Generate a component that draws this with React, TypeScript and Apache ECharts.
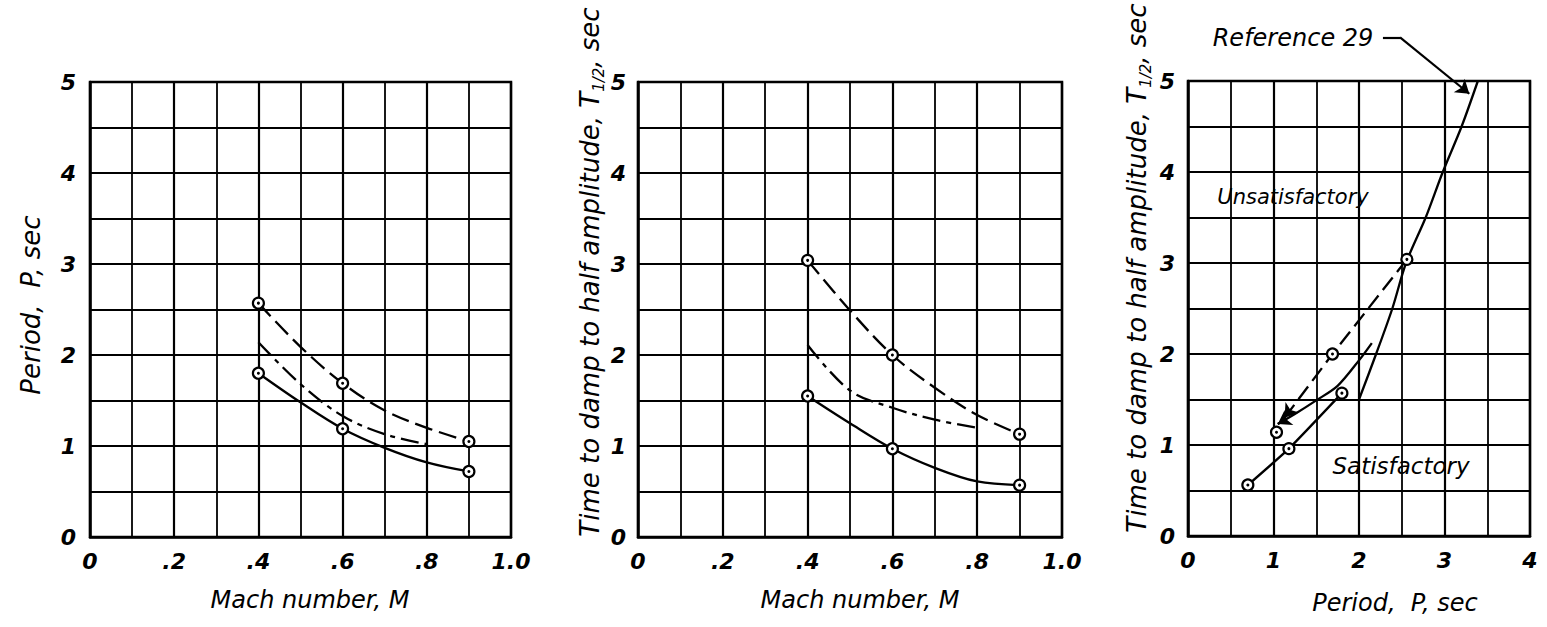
import React, { useEffect, useRef } from "react";
import * as echarts from "echarts";

// ---------- tick labels ----------
const machTickLabels = ["0", ".2", ".4", ".6", ".8", "1.0"];
const yTickLabels = ["0", "1", "2", "3", "4", "5"];
const periodTickLabels = ["0", "1", "2", "3", "4"];

// ---------- panel 1 : Period vs Mach ----------
const p1Dashed = [[0.4, 2.57], [0.5, 2.09], [0.6, 1.69], [0.7, 1.39], [0.8, 1.2], [0.9, 1.05]];
const p1DashDot = [[0.4, 2.14], [0.5, 1.68], [0.6, 1.33], [0.7, 1.13], [0.8, 1.02]];
const p1Solid = [[0.4, 1.8], [0.5, 1.48], [0.6, 1.19], [0.7, 0.98], [0.8, 0.82], [0.9, 0.72]];
const p1Points = [[0.4, 2.57], [0.6, 1.69], [0.9, 1.05], [0.4, 1.8], [0.6, 1.19], [0.9, 0.72]];

// ---------- panel 2 : T1/2 vs Mach ----------
const p2Dashed = [[0.4, 3.04], [0.5, 2.49], [0.6, 2.0], [0.7, 1.64], [0.8, 1.34], [0.9, 1.13]];
const p2DashDot = [[0.4, 2.11], [0.5, 1.61], [0.6, 1.42], [0.7, 1.29], [0.8, 1.2]];
const p2Solid = [[0.4, 1.55], [0.5, 1.25], [0.6, 0.97], [0.7, 0.76], [0.8, 0.61], [0.9, 0.57]];
const p2Points = [[0.4, 3.04], [0.6, 2.0], [0.9, 1.13], [0.4, 1.55], [0.6, 0.97], [0.9, 0.57]];

// ---------- panel 3 : T1/2 vs Period ----------
const p3Solid = [[0.7, 0.56], [1.18, 0.96], [1.8, 1.57]];
const p3Points = [[0.7, 0.56], [1.18, 0.96], [1.8, 1.57], [1.035, 1.14], [1.69, 2.0], [2.56, 3.04]];
const p3DashedArrow = [[2.56, 3.04], [1.69, 2.0], [1.13, 1.3]];
const p3SolidArrow = [[2.15, 2.12], [2.0, 1.93], [1.75, 1.65], [1.5, 1.49], [1.25, 1.34], [1.05, 1.23]];
const p3Ref29 = [[2.0, 1.5], [2.2, 2.0], [2.39, 2.5], [2.55, 3.0], [2.78, 3.5], [2.98, 4.0], [3.2, 4.5], [3.39, 5.0]];
const p3RefPointer = [[2.28, 5.48], [2.48, 5.48], [3.29, 4.86]];

const FONT = "DejaVu Sans";
const BLACK = "#000";

const tickLabelStyle = {
  color: BLACK,
  fontFamily: FONT,
  fontStyle: "italic",
  fontWeight: "bold",
  fontSize: 22,
};

function arrowSegment(pts: number[][], t: number) {
  const a = pts[pts.length - 2];
  const b = pts[pts.length - 1];
  return [[a[0] + (b[0] - a[0]) * t, a[1] + (b[1] - a[1]) * t], b];
}

function makeXAxis(gridIndex: number, max: number, interval: number, labels: string[]) {
  return {
    gridIndex,
    type: "value",
    min: 0,
    max,
    interval,
    minorTick: { show: false, splitNumber: 2 },
    minorSplitLine: { show: true, lineStyle: { color: BLACK, width: 1.8 } },
    splitLine: { show: true, lineStyle: { color: BLACK, width: 2.2 } },
    axisLine: { show: true, lineStyle: { color: BLACK, width: 2.5 } },
    axisTick: { show: false },
    axisLabel: {
      ...tickLabelStyle,
      margin: 13,
      formatter: (v: number) => labels[Math.round(v / interval)] ?? "",
    },
  };
}

function makeYAxis(gridIndex: number, margin: number) {
  return {
    gridIndex,
    type: "value",
    min: 0,
    max: 5,
    interval: 1,
    minorTick: { show: false, splitNumber: 2 },
    minorSplitLine: { show: true, lineStyle: { color: BLACK, width: 2 } },
    splitLine: { show: true, lineStyle: { color: BLACK, width: 2.2 } },
    axisLine: { show: true, lineStyle: { color: BLACK, width: 2.5 } },
    axisTick: { show: false },
    axisLabel: {
      ...tickLabelStyle,
      margin,
      formatter: (v: number) => yTickLabels[Math.round(v)] ?? "",
    },
  };
}

function curve(idx: number, data: number[][], type: any, smooth: number) {
  return {
    type: "line",
    xAxisIndex: idx,
    yAxisIndex: idx,
    data,
    smooth,
    symbol: "none",
    silent: true,
    z: 3,
    lineStyle: { color: BLACK, width: 2.3, type },
  };
}

function circles(idx: number, data: number[][]) {
  return [
    {
      type: "scatter",
      xAxisIndex: idx,
      yAxisIndex: idx,
      data,
      symbol: "circle",
      symbolSize: 11,
      silent: true,
      z: 4,
      itemStyle: { color: "#fff", borderColor: BLACK, borderWidth: 2.2, opacity: 1 },
    },
    {
      type: "scatter",
      xAxisIndex: idx,
      yAxisIndex: idx,
      data,
      symbol: "circle",
      symbolSize: 3,
      silent: true,
      z: 5,
      itemStyle: { color: BLACK, opacity: 1 },
    },
  ];
}

function segLines(idx: number, coords: number[][][], arrow: boolean) {
  return {
    type: "lines",
    coordinateSystem: "cartesian2d",
    xAxisIndex: idx,
    yAxisIndex: idx,
    clip: false,
    silent: true,
    z: 6,
    symbol: arrow ? ["none", "arrow"] : ["none", "none"],
    symbolSize: [9, 13],
    lineStyle: { color: BLACK, width: 2.2, opacity: 1, type: "solid", curveness: 0 },
    data: coords.map((c) => ({ coords: c })),
  };
}

const italic = (text: string, x: number, y: number, fontSize: number, rotation = 0) => ({
  type: "text",
  x,
  y,
  rotation,
  silent: true,
  style: {
    text,
    fill: BLACK,
    fontFamily: FONT,
    fontStyle: "italic",
    fontSize,
    align: "center",
    verticalAlign: "middle",
    textAlign: "center",
    textVerticalAlign: "middle",
  },
});

const halfAmpName = (x: number, y: number) => ({
  type: "text",
  x,
  y,
  rotation: Math.PI / 2,
  silent: true,
  style: {
    text: "{a|Time to damp to half amplitude, T}{s|1/2}{a|, sec}",
    fill: BLACK,
    fontFamily: FONT,
    fontStyle: "italic",
    fontSize: 26,
    align: "center",
    verticalAlign: "middle",
    textAlign: "center",
    textVerticalAlign: "middle",
    rich: {
      a: { fontFamily: FONT, fontStyle: "italic", fontSize: 26, lineHeight: 32, fill: BLACK, color: BLACK },
      s: {
        fontFamily: FONT,
        fontStyle: "italic",
        fontSize: 15,
        lineHeight: 32,
        verticalAlign: "bottom",
        fill: BLACK,
        color: BLACK,
      },
    },
  },
});

export default function App() {
  const ref = useRef<HTMLDivElement>(null);

  useEffect(() => {
    if (!ref.current) return;
    const chart = echarts.init(ref.current, undefined, { renderer: "svg" });
    const gridBase = { show: true, borderColor: BLACK, borderWidth: 2.5, backgroundColor: "#fff" };

    const option: any = {
      animation: false,
      backgroundColor: "#fff",
      grid: [
        { ...gridBase, left: 90, top: 82, width: 421, height: 455 },
        { ...gridBase, left: 638, top: 82, width: 424, height: 455 },
        { ...gridBase, left: 1188, top: 81, width: 342, height: 455 },
      ],
      xAxis: [
        makeXAxis(0, 1, 0.2, machTickLabels),
        makeXAxis(1, 1, 0.2, machTickLabels),
        makeXAxis(2, 4, 1, periodTickLabels),
      ],
      yAxis: [makeYAxis(0, 14), makeYAxis(1, 12), makeYAxis(2, 13)],
      series: [
        curve(0, p1Dashed, [18, 7], 0.35),
        curve(0, p1DashDot, [18, 6, 5, 6], 0.35),
        curve(0, p1Solid, "solid", 0.35),
        ...circles(0, p1Points),

        curve(1, p2Dashed, [18, 7], 0.35),
        curve(1, p2DashDot, [18, 6, 5, 6], 0.35),
        curve(1, p2Solid, "solid", 0.35),
        ...circles(1, p2Points),

        curve(2, p3Solid, "solid", 0.15),
        curve(2, p3DashedArrow, [16, 7], 0),
        curve(2, p3SolidArrow, "solid", 0.3),
        curve(2, p3Ref29, "solid", 0.3),
        ...circles(2, p3Points),
        segLines(2, [arrowSegment(p3DashedArrow, 0.88)], true),
        segLines(2, [arrowSegment(p3SolidArrow, 0.5)], true),
        segLines(2, [[p3RefPointer[0], p3RefPointer[1]]], false),
        segLines(2, [[p3RefPointer[1], p3RefPointer[2]]], true),
      ],
      graphic: [
        italic("Period,  P, sec", 31, 305, 26, Math.PI / 2),
        italic("Mach number, M", 310, 600, 24),
        halfAmpName(590, 272),
        italic("Mach number, M", 860, 600, 24),
        halfAmpName(1137, 268),
        italic("Period,  P, sec", 1395, 603, 24),
        italic("Reference 29", 1293, 38, 24),
        italic("Unsatisfactory", 1293, 197, 21),
        italic("Satisfactory", 1401, 466, 23),
      ],
    };

    chart.setOption(option);
    return () => chart.dispose();
  }, []);

  return (
    <div
      ref={ref}
      style={{ position: "fixed", left: 0, top: 0, width: 1547, height: 627, background: "#fff" }}
    />
  );
}
